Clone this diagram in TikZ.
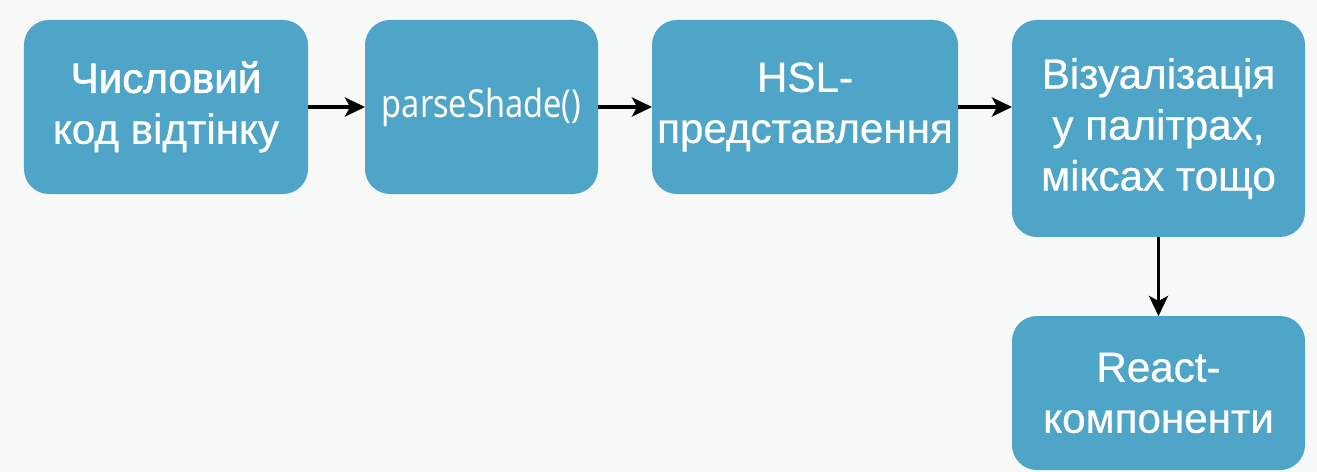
\documentclass[tikz,border=0pt]{standalone}
\usepackage{fontspec}
\setmainfont[FakeBold=0.6]{Liberation Sans}
\newfontfamily\headfont[FakeBold=1.6]{Liberation Sans}
\newfontfamily\narrowfont[FakeStretch=0.84]{Noto Sans}
\usetikzlibrary{positioning}
\usetikzlibrary{arrows.meta}
\definecolor{stagefill}{RGB}{79,165,199}
\definecolor{pagebg}{RGB}{247,248,248}

\begin{document}
\begin{tikzpicture}[>={Stealth[length=4mm,width=3.8mm,inset=1mm]},font=\fontsize{24}{29}\selectfont,line width=2pt,
	stage/.style={rounded corners=0.5cm,fill=stagefill,text=white,align=center,inner sep=0pt,outer sep=0pt,anchor=north west}]
	\fill [pagebg] (0,0) rectangle (26.34,-9.44);
	\useasboundingbox (0,0) rectangle (26.34,-9.44);

	\node [stage,minimum width=5.68cm,minimum height=3.48cm] at (0.48,-0.40) (code) {{\headfont Числовий}\\код відтінку};
	\node [stage,minimum width=4.66cm,minimum height=3.48cm,right=1.14cm of code.north east,anchor=north west] (parse) {\narrowfont\fontsize{22}{26}\selectfont parseShade()};
	\node [stage,minimum width=6.12cm,minimum height=3.48cm,right=1.08cm of parse.north east,anchor=north west] (hsl) {HSL-\\представлення};
	\node [stage,minimum width=5.86cm,minimum height=4.34cm,right=1.08cm of hsl.north east,anchor=north west] (vis) {Візуалізація\\у палітрах,\\міксах тощо};
	\node [stage,minimum width=5.86cm,minimum height=3.08cm,below=1.58cm of vis.south west,anchor=north west] (react) {React-\\компоненти};

	\draw [->] (code.east) -- (parse.west);
	\draw [->] (parse.east) -- (hsl.west);
	\draw [->] (hsl.east) -- (hsl.east -| vis.west);
	\draw [->] (vis.south) -- (react.north);
\end{tikzpicture}
\end{document}
